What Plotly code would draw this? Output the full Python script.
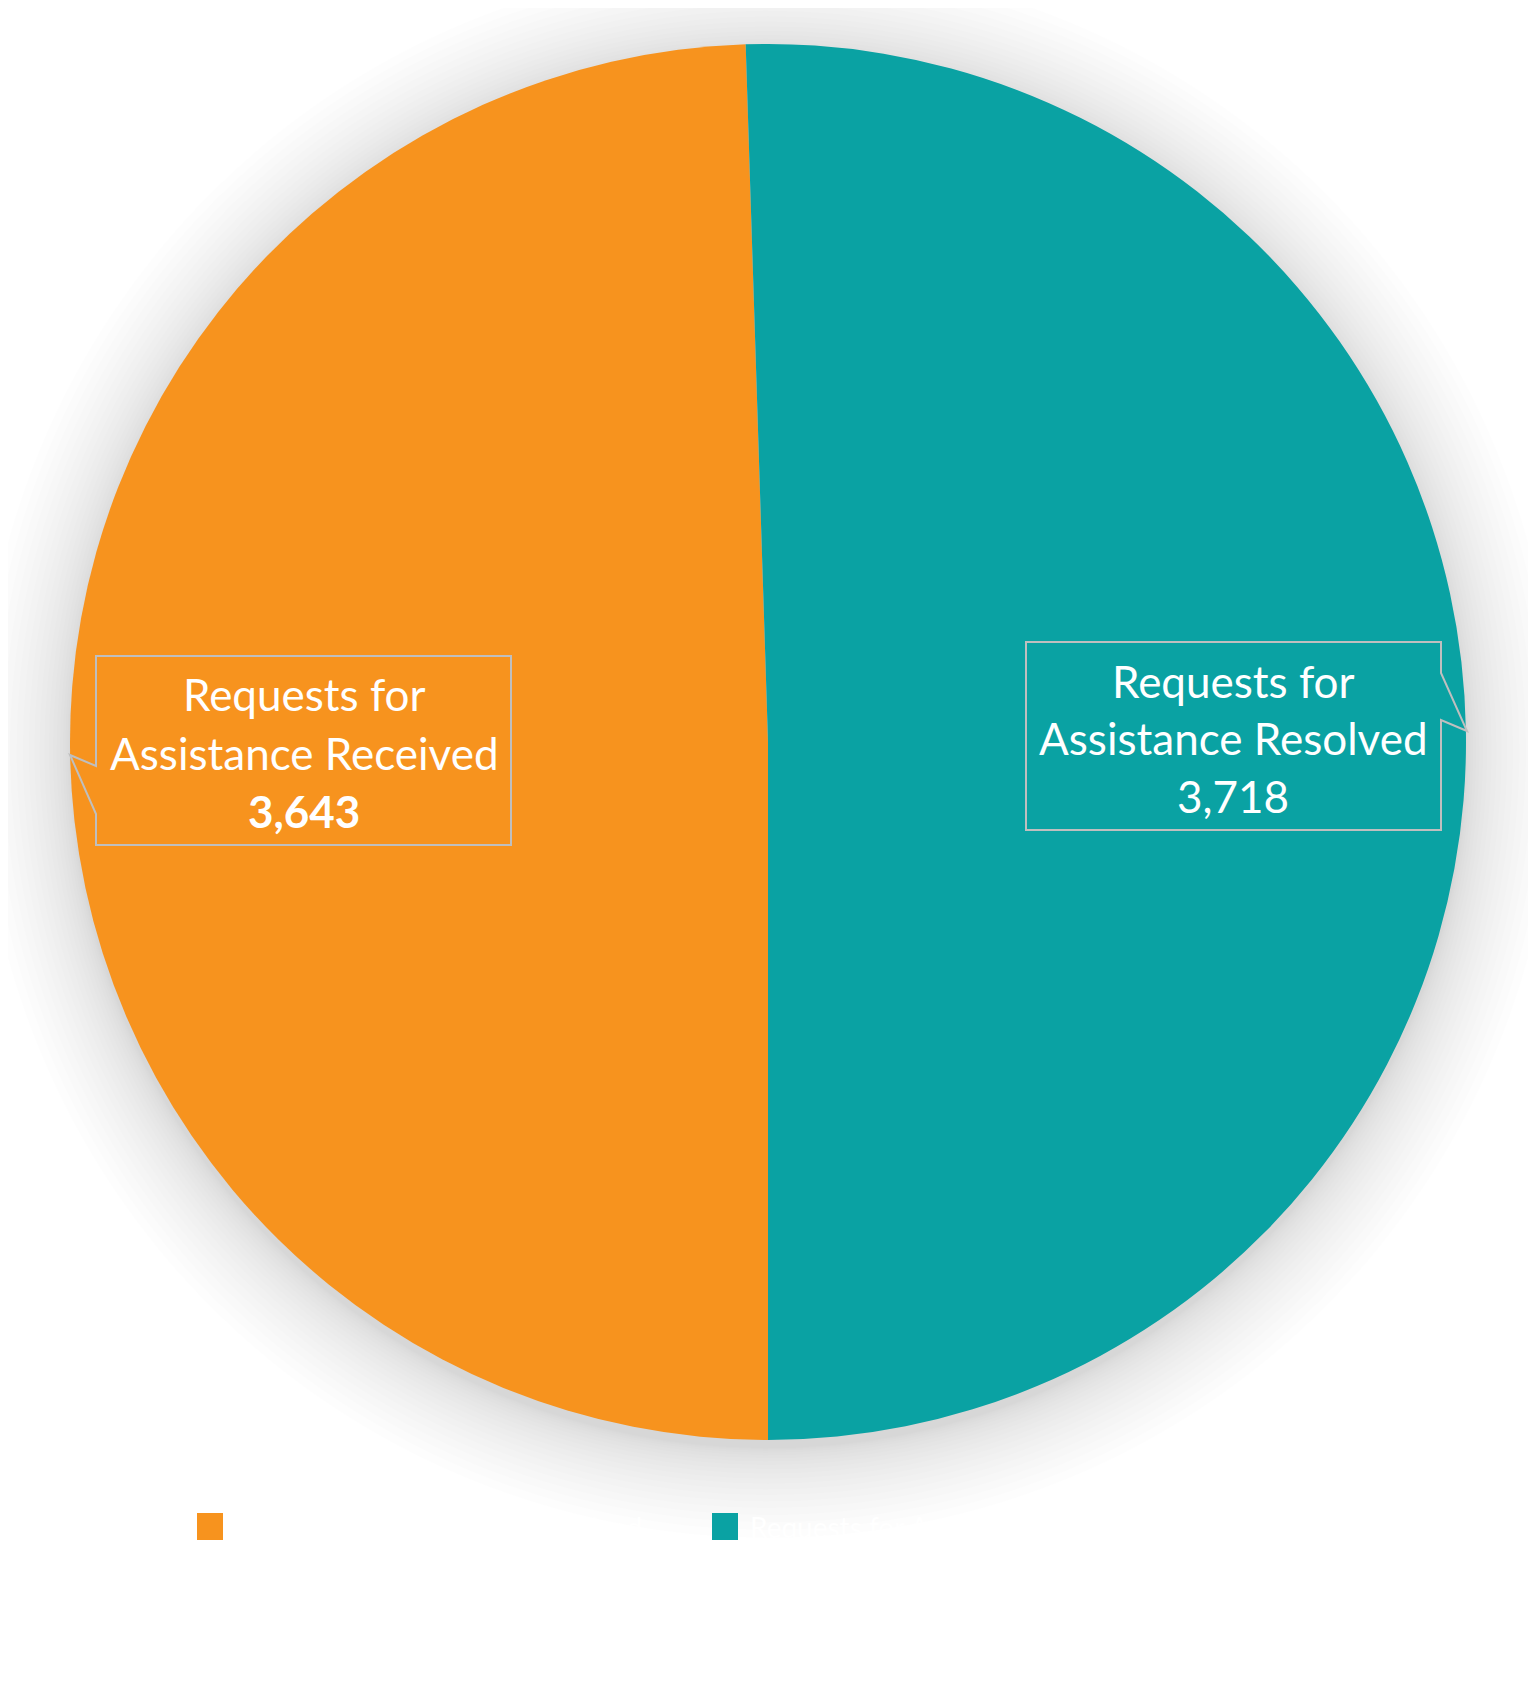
import plotly.graph_objects as go

# data
labels = ["Requests for Assistance Received", "Requests for Assistance Resolved"]
label_lines = [["Requests for", "Assistance Received"], ["Requests for", "Assistance Resolved"]]
values = [3643, 3718]
colors = ["#F7931E", "#0AA2A3"]
value_bold = [True, False]

W, H = 1536, 1707


def px(x):
    return x / W


def py(y):
    return 1 - y / H


# pie geometry (pixels)
cx, cy, r = 760, 734, 698

fig = go.Figure()

fig.add_trace(go.Pie(
    labels=labels,
    values=values,
    marker=dict(colors=colors, line=dict(width=0)),
    sort=False,
    direction="clockwise",
    rotation=180,
    textinfo="none",
    showlegend=False,
    domain=dict(x=[px(cx - r), px(cx + r)], y=[py(cy + r), py(cy - r)]),
))

shapes = []

# soft drop shadow behind the pie (denser rings near the edge)
n_rings = 20
for k in range(n_rings):
    rr = r + 90 * ((k + 1) / n_rings) ** 1.8
    sy = cy + 8
    shapes.append(dict(
        type="circle", xref="paper", yref="paper", layer="below",
        x0=px(cx - rr), x1=px(cx + rr), y0=py(sy + rr), y1=py(sy - rr),
        fillcolor="black", opacity=0.008, line=dict(width=0),
    ))

# callout boxes
left_box = [(88, 648), (503, 648), (503, 837), (88, 837), (88, 806), (62, 747), (88, 758)]
right_box = [(1018, 634), (1433, 634), (1433, 665), (1459, 723), (1433, 712), (1433, 822), (1018, 822)]
for pts in (left_box, right_box):
    path = "M " + " L ".join(f"{px(x)},{py(y)}" for x, y in pts) + " Z"
    shapes.append(dict(type="path", xref="paper", yref="paper", path=path,
                       line=dict(color="#BFBFBF", width=2), fillcolor="rgba(0,0,0,0)"))

annotations = []
text_pos = [(296, [686, 745, 803]), (1225, [673, 730, 788])]
for i, (tx, ys) in enumerate(text_pos):
    lines = label_lines[i] + [f"{values[i]:,}"]
    for j, (line, ty) in enumerate(zip(lines, ys)):
        if j == 2 and value_bold[i]:
            line = f"<b>{line}</b>"
        annotations.append(dict(
            x=px(tx), y=py(ty), xref="paper", yref="paper", text=line,
            showarrow=False, xanchor="center", yanchor="middle",
            font=dict(family="Lato, Noto Sans, sans-serif", size=44, color="white"),
        ))

# legend (white text, as in the original)
legend_x = [189, 704]
for i, lx in enumerate(legend_x):
    shapes.append(dict(type="rect", xref="paper", yref="paper",
                       x0=px(lx), x1=px(lx + 26), y0=py(1532), y1=py(1505),
                       fillcolor=colors[i], line=dict(width=0)))
    annotations.append(dict(
        x=px(lx + 36), y=py(1519), xref="paper", yref="paper", text=labels[i],
        showarrow=False, xanchor="left", yanchor="middle",
        font=dict(family="Lato, Noto Sans, sans-serif", size=28, color="white"),
    ))

fig.update_layout(
    width=W, height=H,
    margin=dict(l=0, r=0, t=0, b=0),
    paper_bgcolor="white",
    plot_bgcolor="white",
    shapes=shapes,
    annotations=annotations,
)

fig.write_html("out.html")
